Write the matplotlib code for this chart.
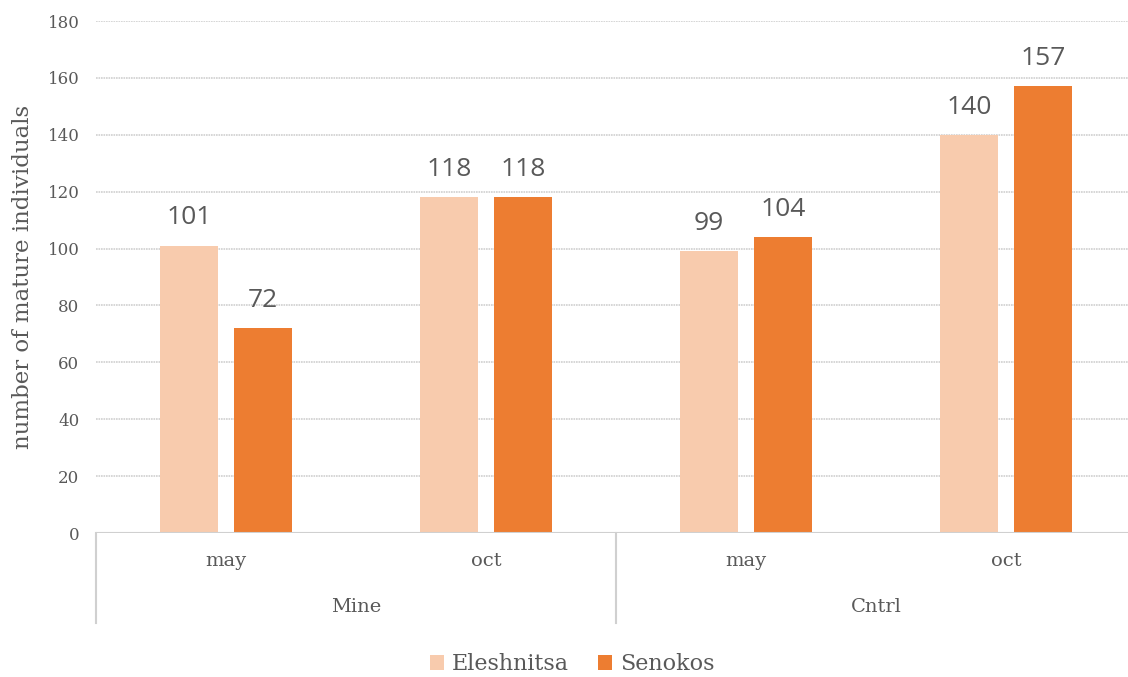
import numpy as np
import matplotlib.pyplot as plt

# data
sites = ["Mine", "Cntrl"]
months = ["may", "oct", "may", "oct"]
series_names = ["Eleshnitsa", "Senokos"]
eleshnitsa = [101, 118, 99, 140]
senokos = [72, 118, 104, 157]

colors = ["#F8CBAD", "#ED7D31"]
grey = "#595959"
serif = ["DejaVu Serif"]
sans = ["Open Sans", "DejaVu Sans"]

fig = plt.figure(figsize=(11.28, 6.77), dpi=100)
# the plot area runs a little past the right edge, as in the original
ax = fig.add_axes([96 / 1128, 1 - 533 / 677, 1040 / 1128, 512 / 677])

x = np.arange(len(months))
w = 0.223
off = 0.142
b1 = ax.bar(x - off, eleshnitsa, w, color=colors[0], label=series_names[0], zorder=3)
b2 = ax.bar(x + off, senokos, w, color=colors[1], label=series_names[1], zorder=3)

for bars in (b1, b2):
    for r in bars:
        ax.annotate(str(int(r.get_height())), (r.get_x() + r.get_width() / 2, r.get_height()),
                    xytext=(0, 11), textcoords="offset points", ha="center", va="bottom",
                    fontsize=19, color=grey, family=sans)

ax.set_xlim(-0.5, len(months) - 0.5)
ax.set_ylim(0, 180)
ax.set_yticks(np.arange(0, 181, 20))
ax.tick_params(axis="y", length=0, labelsize=12, labelcolor=grey, pad=12)
for lab in ax.get_yticklabels():
    lab.set_family(serif)
ax.yaxis.grid(True, color="#D0D0D0", linestyle=(0, (1, 0.5)), linewidth=1.2, zorder=0)
ax.set_xticks([])
for s in ax.spines.values():
    s.set_visible(False)
ax.axhline(0, color="#D0D0D0", linewidth=1.5, zorder=4)

ax.set_ylabel("number of mature individuals", fontsize=16.5, color=grey, family=serif, labelpad=10)

# two-level category axis
trans = ax.get_xaxis_transform()
for i, m in enumerate(months):
    ax.text(i, -0.055, m, transform=trans, ha="center", va="center",
            fontsize=14, color=grey, family=serif)
for j, s in enumerate(sites):
    ax.text(2 * j + 0.5, -0.145, s, transform=trans, ha="center", va="center",
            fontsize=14, color=grey, family=serif)
for xs in (-0.5, 1.5, 3.5):
    ax.plot([xs, xs], [0, -0.175], transform=trans, color="#D0D0D0",
            linewidth=1.5, clip_on=False)

leg = fig.legend(loc="center", bbox_to_anchor=(572 / 1128, 1 - 664 / 677), ncol=2,
                 frameon=False, handlelength=0.65, handleheight=0.65, handletextpad=0.35,
                 columnspacing=1.3, prop={"family": serif, "size": 16})
for t in leg.get_texts():
    t.set_color(grey)

fig.savefig("out.png", dpi=100)
